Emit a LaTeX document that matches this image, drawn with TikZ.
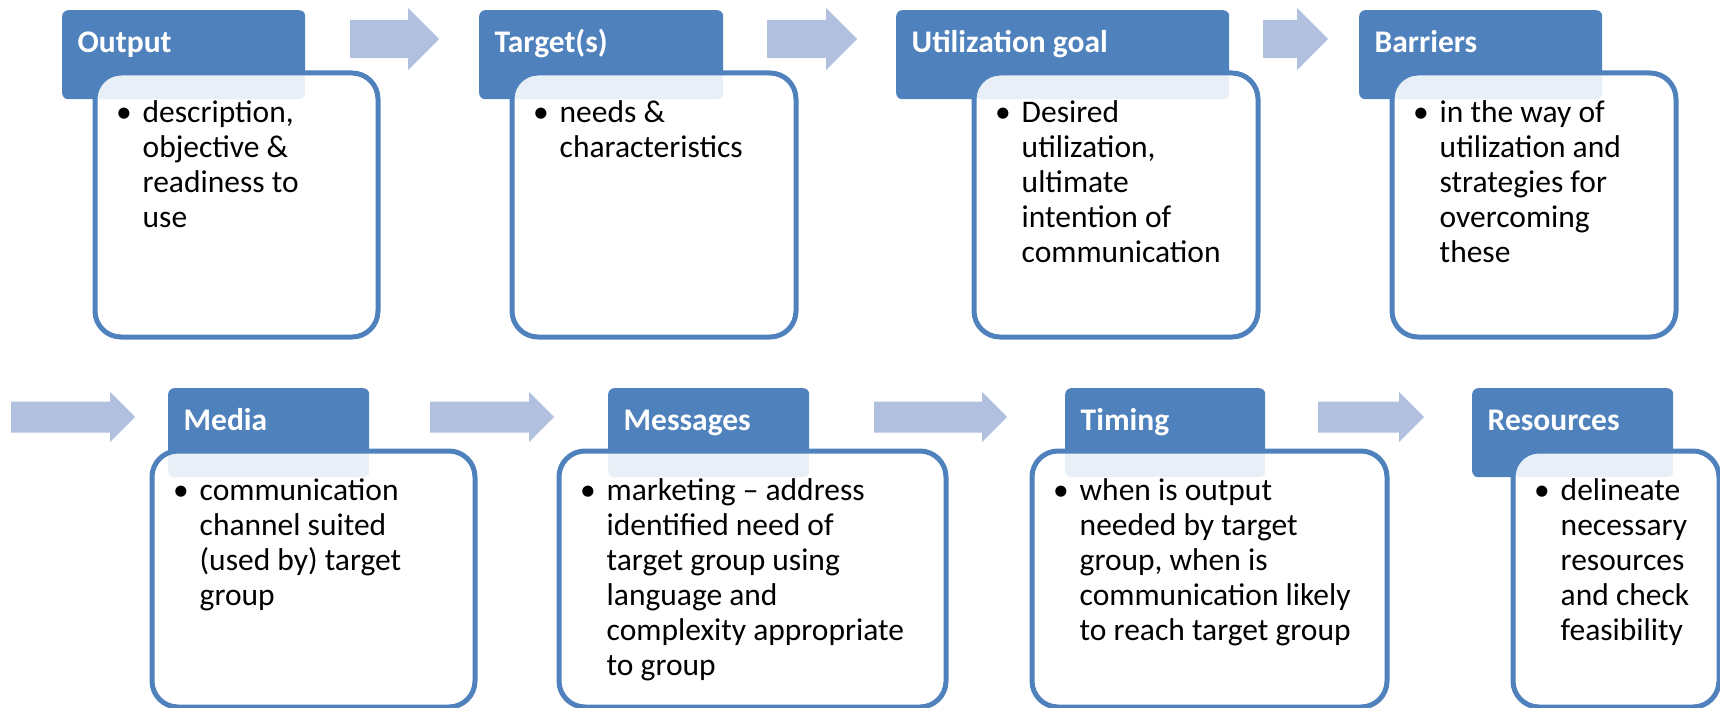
\documentclass[tikz,border=0pt]{standalone}
\usepackage{fontspec}
\setmainfont{Carlito}
\usepackage{tikz}
\usepackage{xcolor}
\usetikzlibrary{positioning}

\definecolor{headblue}{RGB}{79,129,189}
\definecolor{arrowblue}{RGB}{176,192,222}

\newcommand{\bul}{\rule{0pt}{25pt}\llap{\textbullet\hspace{11pt}}}
% block arrow: x from, x to, y centre, half shaft, half head
\newcommand{\flowarrow}[5]{%
  \fill[arrowblue] (#1,#3-#4) -- (#2-#5,#3-#4) -- (#2-#5,#3-#5) -- (#2,#3)
    -- (#2-#5,#3+#5) -- (#2-#5,#3+#4) -- (#1,#3+#4) -- cycle;}

\tikzset{
  head/.style={rectangle, rounded corners=6pt, fill=headblue, inner sep=0pt,
    minimum height=89pt, anchor=north west},
  box/.style={rectangle, rounded corners=26pt, draw=headblue, line width=5pt,
    fill=white, fill opacity=0.88, inner sep=0pt, anchor=north west},
  headtext/.style={inner sep=0pt, text=white, align=left,
    font=\fontsize{31.5}{35}\selectfont\bfseries,
    execute at begin node=\rule{0pt}{25pt},
    below right=0pt and 15.5pt of #1.north west, yshift=-17.5pt},
  boxtext/.style={inner sep=0pt, text=black, align=left,
    font=\fontsize{31.5}{35}\selectfont,
    below right=0pt and 50pt of #1.north west, yshift=-26.5pt}
}

\begin{document}
\begin{tikzpicture}[x=1pt, y=-1pt]
\useasboundingbox (0,0) rectangle (1720,708);

% arrows
\flowarrow{350}{439}{39}{19}{31}
\flowarrow{767}{857}{39}{19}{31}
\flowarrow{1263}{1328}{39}{19}{31}
\flowarrow{11}{135}{417}{15.5}{25}
\flowarrow{430}{554}{417}{15.5}{25}
\flowarrow{874}{1007}{417}{15.5}{25}
\flowarrow{1318}{1424}{417}{15.5}{25}

% top row
\node[head, minimum width=243pt] (outhead) at (62,10) {};
\node[box, minimum width=283pt, minimum height=264pt] (outbox) at (92.5,70.5) {};
\node[headtext=outhead] (outlabel) {Output};
\node[boxtext=outbox] (outtext) {\bul description,\\objective \&\\readiness to\\use};

\node[head, minimum width=244pt] (tgthead) at (479,10) {};
\node[box, minimum width=284pt, minimum height=264pt] (tgtbox) at (509.5,70.5) {};
\node[headtext=tgthead] (tgtlabel) {Target(s)};
\node[boxtext=tgtbox] (tgttext) {\bul needs \&\\characteristics};

\node[head, minimum width=333pt] (utilhead) at (896,10) {};
\node[box, minimum width=284pt, minimum height=264pt] (utilbox) at (971.5,70.5) {};
\node[headtext=utilhead] (utillabel) {Utilization goal};
\node[boxtext=utilbox] (utiltext) {\bul Desired\\utilization,\\ultimate\\intention of\\communication};

\node[head, minimum width=243pt] (barrhead) at (1359,10) {};
\node[box, minimum width=284pt, minimum height=264pt] (barrbox) at (1389.5,70.5) {};
\node[headtext=barrhead] (barrlabel) {Barriers};
\node[boxtext=barrbox] (barrtext) {\bul in the way of\\utilization and\\strategies for\\overcoming\\these};

% bottom row
\node[head, minimum width=201pt] (medhead) at (168,388) {};
\node[box, minimum width=323pt, minimum height=256pt] (medbox) at (149.5,448.5) {};
\node[headtext=medhead] (medlabel) {Media};
\node[boxtext=medbox] (medtext) {\bul communication\\channel suited\\(used by) target\\group};

\node[head, minimum width=201pt] (msghead) at (608,388) {};
\node[box, minimum width=387pt, minimum height=256pt] (msgbox) at (556.5,448.5) {};
\node[headtext=msghead] (msglabel) {Messages};
\node[boxtext=msgbox] (msgtext) {\bul marketing -- address\\identified need of\\target group using\\language and\\complexity appropriate\\to group};

\node[head, minimum width=200pt] (timhead) at (1065,388) {};
\node[box, minimum width=355pt, minimum height=256pt] (timbox) at (1029.5,448.5) {};
\node[headtext=timhead] (timlabel) {Timing};
\node[boxtext=timbox] (timtext) {\bul when is output\\needed by target\\group, when is\\communication likely\\to reach target group};

\node[head, minimum width=201pt] (reshead) at (1472,388) {};
\node[box, minimum width=206pt, minimum height=256pt] (resbox) at (1510.5,448.5) {};
\node[headtext=reshead] (reslabel) {Resources};
\node[boxtext=resbox] (restext) {\bul delineate\\necessary\\resources\\and check\\feasibility};
\end{tikzpicture}
\end{document}
